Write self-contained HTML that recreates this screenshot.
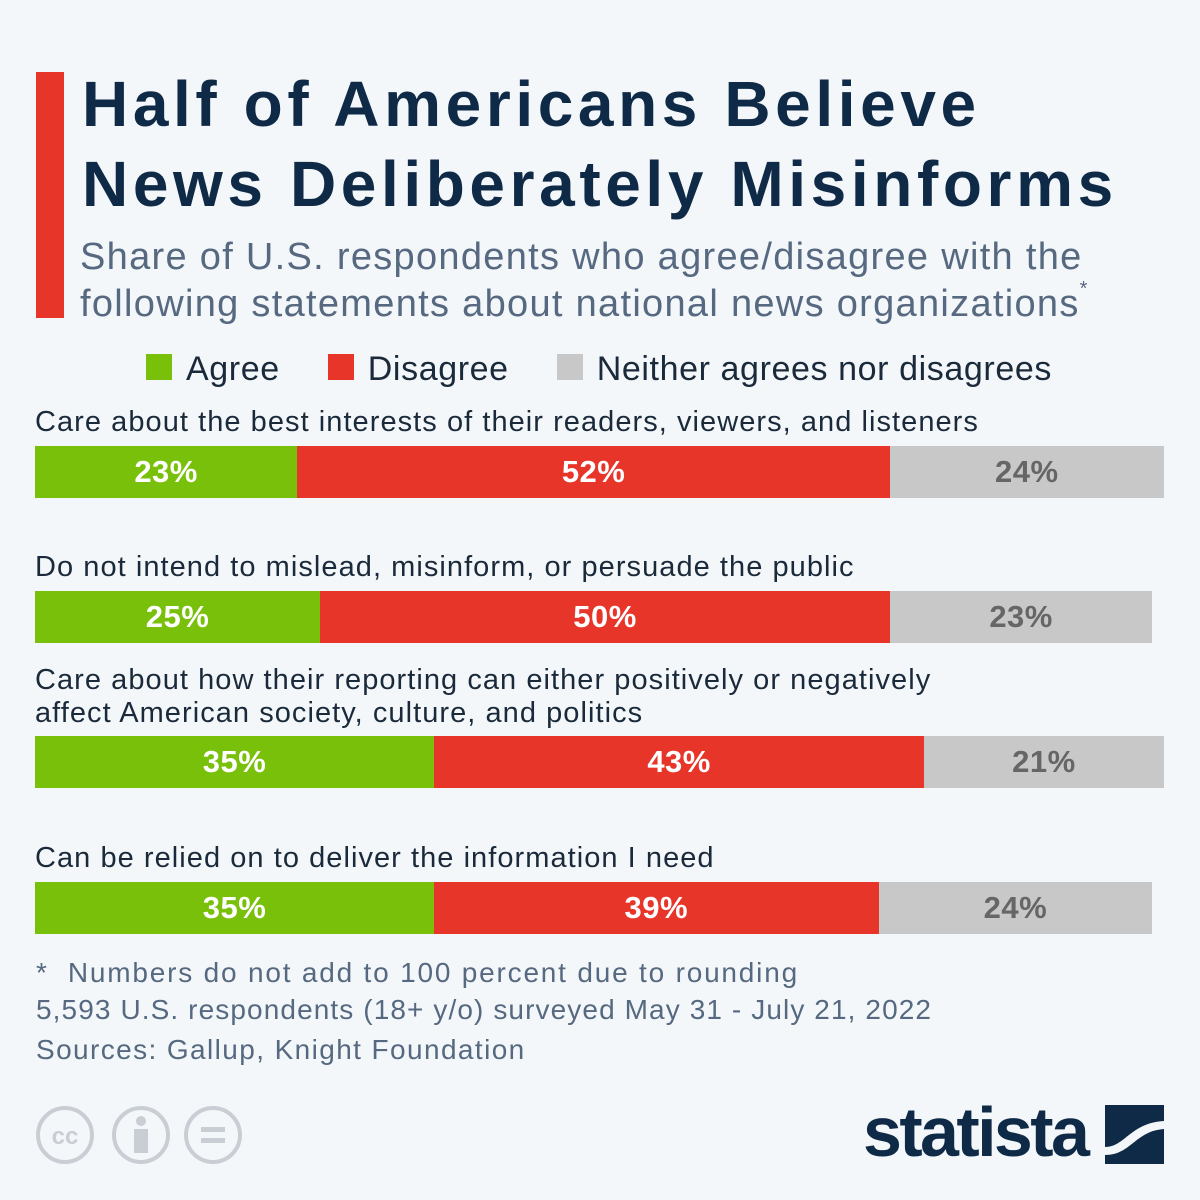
<!DOCTYPE html>
<html><head><meta charset="utf-8"><style>
body{margin:0;width:1200px;height:1200px;background:#f3f7fa;font-family:"Liberation Sans",sans-serif;position:relative;overflow:hidden}
.a{position:absolute;white-space:nowrap}
.lab{font-size:29px;color:#1b2a3a;letter-spacing:1.05px}
.seg{position:absolute;display:flex;align-items:center;justify-content:center;font-size:31px;font-weight:bold;letter-spacing:0.5px}
</style></head><body>
<div class="a" style="left:36px;top:72px;width:28px;height:246px;background:#e8352a"></div>
<div class="a" style="left:82px;top:64px;font-size:64px;font-weight:bold;color:#0f2a47;line-height:80px;letter-spacing:4.6px">Half of Americans Believe<br>News Deliberately Misinforms</div>
<div class="a" style="left:80px;top:234px;font-size:38px;color:#566980;line-height:47px;letter-spacing:1.3px">Share of U.S. respondents who agree/disagree with the<br>following statements about national news organizations<span style="font-size:20px;vertical-align:top;line-height:0;position:relative;top:8px">*</span></div>
<div class="a" style="left:146px;top:348px;font-size:34px;color:#1b2a3a;line-height:42px;letter-spacing:0.6px">
<span><span style="display:inline-block;width:26px;height:26px;background:#78c00a;margin-right:14px"></span>Agree</span>
<span style="margin-left:38px"><span style="display:inline-block;width:26px;height:26px;background:#e8352a;margin-right:14px"></span>Disagree</span>
<span style="margin-left:38px"><span style="display:inline-block;width:26px;height:26px;background:#c8c8c8;margin-right:14px"></span>Neither agrees nor disagrees</span>
</div>
<div id="chart"></div>
<div class="a" style="left:36px;top:954px;font-size:28px;color:#566980;line-height:37px;letter-spacing:1.1px"><span style="letter-spacing:1.8px">*&nbsp; Numbers do not add to 100 percent due to rounding</span><br>5,593 U.S. respondents (18+ y/o) surveyed May 31 - July 21, 2022</div>
<div class="a" style="left:36px;top:1034px;font-size:28px;color:#566980;letter-spacing:1.4px">Sources: Gallup, Knight Foundation</div>
<svg class="a" style="left:34px;top:1104px" width="210" height="62">
<g fill="none" stroke="#c9ced4" stroke-width="4">
<circle cx="31" cy="31" r="27"/><circle cx="107" cy="31" r="27"/><circle cx="179" cy="31" r="27"/></g>
<text x="31" y="40" font-size="24" font-weight="bold" fill="#c9ced4" text-anchor="middle" font-family="Liberation Sans">cc</text>
<circle cx="107" cy="17" r="5" fill="#c9ced4"/><rect x="100" y="25" width="14" height="24" fill="#c9ced4"/>
<rect x="167" y="23" width="24" height="5" fill="#c9ced4"/><rect x="167" y="34" width="24" height="5" fill="#c9ced4"/>
</svg>
<div class="a" style="left:863px;top:1092px;font-size:70px;font-weight:bold;color:#0f2a47;letter-spacing:-2.6px">statista</div>
<svg class="a" style="left:1105px;top:1105px" width="59" height="59"><rect width="59" height="59" fill="#0f2a47"/><path d="M0 42 C20 42 25 18 59 16 L59 24 C30 26 26 50 0 50Z" fill="#f3f7fa"/></svg>
<script>
const labels=["Care about the best interests of their readers, viewers, and listeners","Do not intend to mislead, misinform, or persuade the public","Care about how their reporting can either positively or negatively<br>affect American society, culture, and politics","Can be relied on to deliver the information I need"];
const agree=[23,25,35,35];
const disagree=[52,50,43,39];
const neither=[24,23,21,24];
const x0=35,scale=11.4,barTops=[446,591,736,882],barH=52;
const chart=document.getElementById('chart');
function px(v){return v*scale;}
labels.forEach((l,i)=>{
  const t=document.createElement('div');t.className='a lab';
  
  
  const two=l.includes('<br>');
  t.style.left='35px';t.style.top=(barTops[i]-(two?72:40))+'px';t.style.lineHeight='33px';t.innerHTML=l;chart.appendChild(t);
  let x=x0;
  [[agree[i],'#78c00a','#fff','bar-agree'],[disagree[i],'#e8352a','#fff','bar-disagree'],[neither[i],'#c8c8c8','#666','bar-neither']].forEach(s=>{
    const b=document.createElement('div');b.className='seg';
    
    
    b.style.left=x+'px';b.style.top=barTops[i]+'px';b.style.width=px(s[0])+'px';b.style.height=barH+'px';
    b.style.background=s[1];b.style.color=s[2];b.textContent=s[0]+'%';chart.appendChild(b);x+=px(s[0]);
  });
});
</script>
</body></html>
